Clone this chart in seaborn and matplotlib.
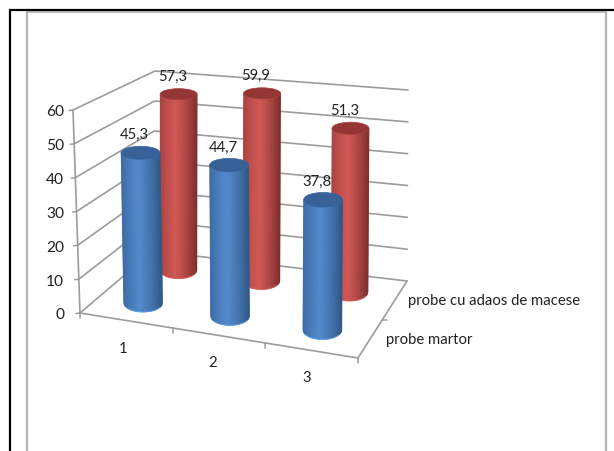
import numpy as np
import pandas as pd
import matplotlib
matplotlib.use("Agg")
import matplotlib.pyplot as plt
from matplotlib.patches import Ellipse
from matplotlib.collections import PolyCollection
import seaborn as sns

# ---- data ----
categories = ["1", "2", "3"]
series_names = ["probe martor", "probe cu adaos de macese"]
probe_martor = [45.3, 44.7, 37.8]
probe_adaos = [57.3, 59.9, 51.3]
value_ticks = [0, 10, 20, 30, 40, 50, 60]

# ---- 3D box projection (figure pixels) ----
FL0, FR0, BR0, BL0 = map(np.array, [(80, 314), (358, 359), (407, 282), (153, 252)])
FL1, FR1, BR1, BL1 = map(np.array, [(73, 111), (361, 144), (408, 91), (155, 72)])
Y_MAX = value_ticks[-1]


def project(u, v, value):
    """u: across categories, v: depth, value: chart units."""
    w = value / Y_MAX
    low = (1 - v) * ((1 - u) * FL0 + u * FR0) + v * ((1 - u) * BL0 + u * BR0)
    high = (1 - v) * ((1 - u) * FL1 + u * FR1) + v * ((1 - u) * BL1 + u * BR1)
    return (1 - w) * low + w * high


sns.set_theme(style="white")
plt.rcParams["font.family"] = ["Lato", "DejaVu Sans"]
palette = {
    series_names[0]: dict(left="#3a68a2", mid="#5288cb", right="#2f5786", top="#376197", rim="#5f9fe6"),
    series_names[1]: dict(left="#a8413f", mid="#d05755", right="#7d2e2c", top="#943634", rim="#d9625f"),
}
GRID = "#9c9c9c"
TEXT = "#222222"
FS = 10.7

fig = plt.figure(figsize=(6.14, 4.52), dpi=100, facecolor="white")
ax = fig.add_axes([0, 0, 1, 1])

# ---- grid lines via seaborn ----
rows = []
for lv in value_ticks:
    for order, (u, v) in enumerate([(0, 0), (0, 1), (1, 1)]):
        px, py = project(u, v, lv)
        rows.append(dict(line=f"level{lv}", order=order, px=px, py=py))
for name, pts in {
    "frontv": [(0, 0, 0), (0, 0, Y_MAX)],
    "front": [(0, 0, 0), (1, 0, 0)],
    "right": [(1, 0, 0), (1, 1, 0)],
}.items():
    for order, (u, v, z) in enumerate(pts):
        px, py = project(u, v, z)
        rows.append(dict(line=name, order=order, px=px, py=py))
grid_df = pd.DataFrame(rows)
sns.lineplot(data=grid_df, x="px", y="py", units="line", estimator=None, sort=False,
             color=GRID, lw=1.2, ax=ax, legend=False, zorder=1)

# tick marks
for lv in value_ticks:
    px, py = project(0, 0, lv)
    ax.plot([px - 4, px], [py + 0.5, py], color=GRID, lw=1.1, zorder=1)
    ax.text(64, py + 1.5, str(lv), ha="right", va="center", fontsize=FS + 0.5, color=TEXT)
for u in np.linspace(0, 1, len(categories) + 1):
    px, py = project(u, 0, 0)
    ax.plot([px, px], [py, py + 5], color=GRID, lw=1.1, zorder=1)
px, py = project(1, 0.5, 0)
ax.plot([px, px + 4], [py, py], color=GRID, lw=1.1, zorder=1)

# ---- cylinders ----
U_CENTER = [0.16, 0.48, 0.82]
DEPTH = {series_names[0]: 0.27, series_names[1]: 0.78}
RX = {series_names[0]: 19.5, series_names[1]: 18.5}
# rear row is a little foreshortened compared with the wall scale
FORESHORTEN = {series_names[0]: 1.0, series_names[1]: 0.985}


def ry_at(y):
    return 5.5 + 0.017 * (y - 90)


def mix(a, b, t):
    a, b = np.array(matplotlib.colors.to_rgb(a)), np.array(matplotlib.colors.to_rgb(b))
    return tuple((1 - t) * a + t * b)


def cylinder(u, v, value, rx, colors, z):
    xb, yb = project(u, v, 0)
    xt, yt = project(u, v, value)
    ryb, ryt = ry_at(yb), ry_at(yt)
    n = 60
    s = np.linspace(-1, 1, n + 1)
    polys, cols = [], []
    for a, b in zip(s[:-1], s[1:]):
        sb = lambda q: np.sqrt(max(0, 1 - q * q))
        polys.append([(xt + rx * a, yt), (xt + rx * b, yt),
                      (xb + rx * b, yb + ryb * sb(b)), (xb + rx * a, yb + ryb * sb(a))])
        c = (a + b) / 2
        peak = -0.15
        if c < peak:
            col = mix(colors["left"], colors["mid"], ((c + 1) / (peak + 1)) ** 0.8)
        else:
            col = mix(colors["mid"], colors["right"], ((c - peak) / (1 - peak)) ** 1.3)
        cols.append(col)
    ax.add_collection(PolyCollection(polys, facecolors=cols, edgecolors=cols, linewidths=0.4, zorder=z))
    arc = np.linspace(-1, 1, 40)
    ax.plot(xb + rx * 0.85 * arc, yb + ryb * np.sqrt(1 - (0.85 * arc) ** 2), color=colors["rim"],
            lw=0.8, alpha=0.8, zorder=z + 0.1)
    ax.add_patch(Ellipse((xt, yt), 2 * rx, 2 * ryt, facecolor=colors["top"], edgecolor=colors["left"],
                         lw=0.5, zorder=z + 0.2))
    return xt, yt


order = [(series_names[1], probe_adaos, 3), (series_names[0], probe_martor, 5)]
for name, values, z in order:
    for i, value in enumerate(values):
        xt, yt = cylinder(U_CENTER[i], DEPTH[name], value * FORESHORTEN[name], RX[name],
                          palette[name], z + i * 0.01)
        ax.text(xt - 6, yt - 18.5, f"{value:.1f}".replace(".", ","), ha="center", va="center",
                fontsize=FS, color=TEXT, zorder=8)

# ---- category and depth labels ----
for i, cat in enumerate(categories):
    px, py = project(U_CENTER[i], 0, 0)
    ax.text(px - 1, py + 27.5, cat, ha="center", va="center", fontsize=FS, color=TEXT)
ax.text(386, 340, series_names[0], ha="left", va="center", fontsize=FS, color=TEXT)
ax.text(408, 301, series_names[1], ha="left", va="center", fontsize=FS, color=TEXT)

# ---- frame of the source page ----
ax.plot([10, 10], [452, 10], color="black", lw=1.6, zorder=9, solid_capstyle="butt")
ax.plot([9, 614], [11, 11], color="black", lw=1.6, zorder=9, solid_capstyle="butt")
ax.plot([27, 27], [452, 12], color="#b4b4b4", lw=1.6, zorder=9, solid_capstyle="butt")
ax.plot([27, 606], [12.5, 12.5], color="#a8a8a8", lw=1.2, zorder=9, solid_capstyle="butt")
ax.plot([605.5, 605.5], [452, 12], color="#b4b4b4", lw=1.6, zorder=9, solid_capstyle="butt")

ax.set_xlim(0, 614)
ax.set_ylim(452, 0)
ax.axis("off")
fig.savefig("out.png", dpi=100, facecolor="white")
